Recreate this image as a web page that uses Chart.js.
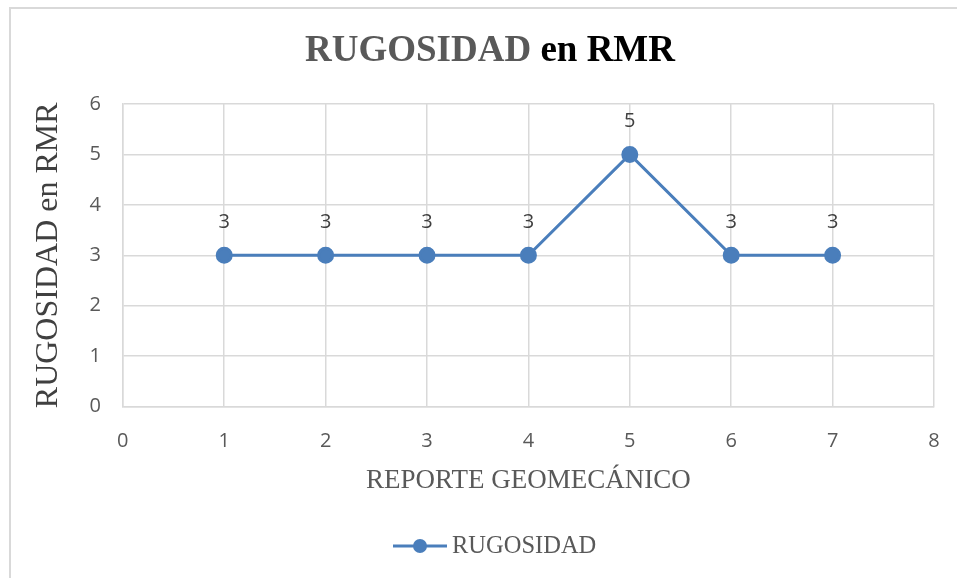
<!DOCTYPE html>
<html>
<head>
<meta charset="utf-8">
<script src="https://cdn.jsdelivr.net/npm/chart.js@4/dist/chart.umd.min.js"></script>
<style>
  html, body { margin: 0; padding: 0; background: #fff; }
  #wrap { position: relative; width: 957px; height: 578px; }
</style>
</head>
<body>
<div id="wrap"><canvas id="rmr-chart" width="957" height="578"></canvas></div>
<script>
const reportes = [1, 2, 3, 4, 5, 6, 7];
const rugosidad = [3, 3, 3, 3, 5, 3, 3];
const seriesName = 'RUGOSIDAD';
const titleParts = ['RUGOSIDAD', ' en RMR'];
const yTitle = 'RUGOSIDAD en RMR';
const xTitle = 'REPORTE GEOMECÁNICO';

const blue = '#4a7ebb';
const serif = '"Liberation Serif", "Times New Roman", serif';
const sans = '"Open Sans", "Liberation Sans", sans-serif';

const decor = {
  id: 'decor',
  beforeDraw(chart) {
    const ctx = chart.ctx;
    ctx.save();
    ctx.fillStyle = '#fff';
    ctx.fillRect(0, 0, chart.width, chart.height);
    ctx.strokeStyle = '#d9d9d9';
    ctx.lineWidth = 2;
    ctx.beginPath();
    ctx.moveTo(10, chart.height);
    ctx.lineTo(10, 8);
    ctx.lineTo(chart.width, 8);
    ctx.stroke();
    ctx.restore();
  },
  afterDraw(chart) {
    const ctx = chart.ctx;
    ctx.save();
    // title in two colours
    ctx.font = 'bold 37px ' + serif;
    ctx.textBaseline = 'middle';
    const w1 = ctx.measureText(titleParts[0]).width;
    const w2 = ctx.measureText(titleParts[1]).width;
    let x = 490 - (w1 + w2) / 2;
    ctx.fillStyle = '#595959';
    ctx.fillText(titleParts[0], x, 51);
    ctx.fillStyle = '#000';
    ctx.fillText(titleParts[1], x + w1, 51);

    // data labels
    const meta = chart.getDatasetMeta(0);
    ctx.font = '20px ' + sans;
    ctx.fillStyle = '#404040';
    ctx.textAlign = 'center';
    meta.data.forEach((pt, i) => {
      ctx.fillText(String(rugosidad[i]), pt.x, pt.y - 33);
    });

    // legend
    const ly = 546;
    ctx.strokeStyle = blue;
    ctx.lineWidth = 3;
    ctx.beginPath();
    ctx.moveTo(393, ly);
    ctx.lineTo(447, ly);
    ctx.stroke();
    ctx.fillStyle = blue;
    ctx.beginPath();
    ctx.arc(420, ly, 7, 0, Math.PI * 2);
    ctx.fill();
    ctx.font = '24.5px ' + serif;
    ctx.fillStyle = '#595959';
    ctx.textAlign = 'left';
    ctx.fillText(seriesName, 452, ly + 1);
    ctx.restore();
  }
};

new Chart(document.getElementById('rmr-chart'), {
  type: 'line',
  data: {
    datasets: [{
      label: seriesName,
      data: reportes.map((r, i) => ({ x: r, y: rugosidad[i] })),
      borderColor: blue,
      backgroundColor: blue,
      borderWidth: 3,
      pointRadius: 7,
      pointHoverRadius: 7,
      fill: false,
      tension: 0
    }]
  },
  options: {
    responsive: false,
    animation: false,
    layout: { padding: { top: 104, left: 25, right: 23, bottom: 77 } },
    plugins: {
      legend: { display: false },
      title: { display: false },
      tooltip: { enabled: false }
    },
    scales: {
      x: {
        type: 'linear',
        min: 0,
        max: 8,
        afterFit(scale) {
          // tick padding is vertical here; don't let it eat the right margin
          scale.paddingRight = 0;
          scale.paddingLeft = 0;
        },
        ticks: { stepSize: 1, color: '#595959', font: { size: 20, family: sans }, padding: 23 },
        grid: { color: '#d9d9d9', lineWidth: 1.5, drawTicks: false },
        border: { color: '#d9d9d9', width: 1.5 },
        title: { display: true, text: xTitle, color: '#595959', font: { size: 27, family: serif }, padding: { top: -12 } }
      },
      y: {
        min: 0,
        max: 6,
        ticks: { stepSize: 1, color: '#595959', font: { size: 20, family: sans }, padding: 22 },
        grid: { color: '#d9d9d9', lineWidth: 1.5, drawTicks: false },
        border: { color: '#d9d9d9', width: 1.5 },
        title: { display: true, text: yTitle, color: '#404040', font: { size: 32, family: serif }, padding: { bottom: 0 } }
      }
    }
  },
  plugins: [decor]
});
</script>
</body>
</html>
